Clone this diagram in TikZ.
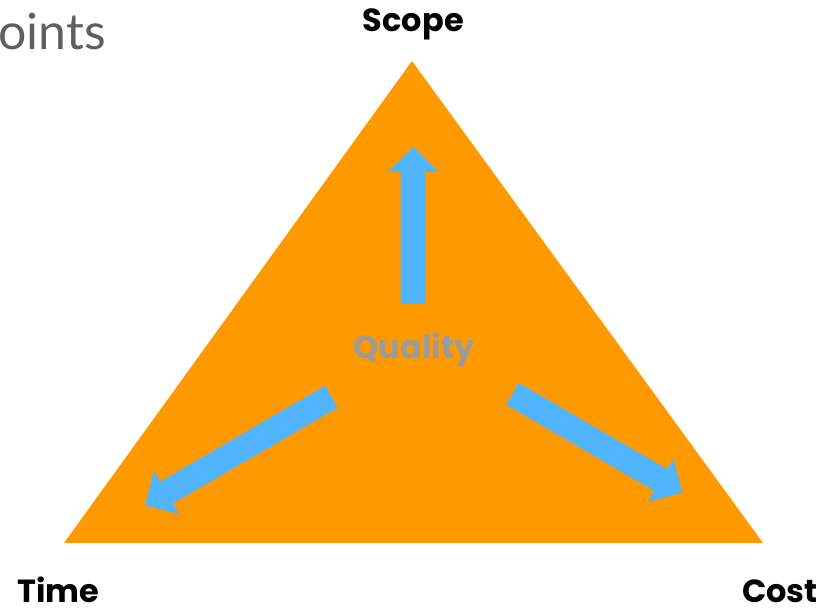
\documentclass[tikz,border=0pt]{standalone}
\usepackage{fontspec}
\setmainfont{Poppins}
\newfontfamily\titlefont{Lato}
\definecolor{triorange}{HTML}{FF9900}
\definecolor{arrowblue}{HTML}{50B4FF}
\definecolor{qualgray}{HTML}{9B9B9B}
\definecolor{titlegray}{HTML}{5F5F5F}
\tikzset{
  label/.style={inner sep=0pt, font=\fontsize{32}{34}\selectfont\bfseries, text=black},
  fatarrow/.style={fill=arrowblue},
}
\newcommand{\fatarrowpath}[1]{(0,-12.6)--(#1-25,-12.6)--(#1-25,-25)--(#1,0)--(#1-25,25)--(#1-25,12.6)--(0,12.6)--cycle}
\begin{document}
\begin{tikzpicture}[x=1pt,y=1pt]
\useasboundingbox (0,0) rectangle (831,611);
\fill[triorange] (412,550) -- (64,68) -- (763,68) -- cycle;
% arrows
\begin{scope}[shift={(413.3,307)},rotate=90]
  \fill[fatarrow] \fatarrowpath{157};
\end{scope}
\begin{scope}[shift={(331.3,214.3)},rotate=210.2]
  \fill[fatarrow] \fatarrowpath{215.5};
\end{scope}
\begin{scope}[shift={(512.5,217.2)},rotate=-30.2]
  \fill[fatarrow] \fatarrowpath{196.5};
\end{scope}
% texts
\node[label, anchor=base] (scope) at (413.3,579) {Scope};
\node[label, anchor=base west] (time) at (17,8) {Time};
\node[label, anchor=base east] (cost) at (818,8) {Cost};
\node[label, anchor=base, text=qualgray] (quality) at (414,252) {Quality};
\node[inner sep=0pt, anchor=base west, text=titlegray, font=\titlefont\fontsize{50}{52}\selectfont] (title) at (-2,561) {oints};
\end{tikzpicture}
\end{document}
